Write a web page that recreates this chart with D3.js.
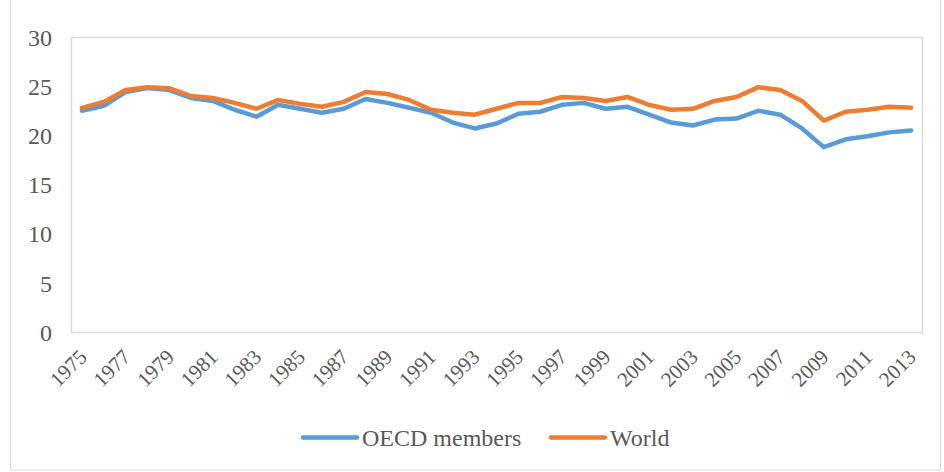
<!DOCTYPE html>
<html>
<head>
<meta charset="utf-8">
<script src="https://cdn.jsdelivr.net/npm/d3@7"></script>
<style>
  html, body { margin: 0; padding: 0; background: #fff; }
  svg { display: block; }
  text { font-family: "Liberation Serif", "Times New Roman", serif; fill: #595959; }
</style>
</head>
<body>
<svg id="chart" width="944" height="472"></svg>
<script>
// Years on the category axis
const years = d3.range(1975, 2014);

// Series values
const oecd = [22.5, 23.0, 24.4, 24.8, 24.6, 23.8, 23.5, 22.6, 21.9, 23.1,
              22.7, 22.3, 22.7, 23.7, 23.3, 22.8, 22.3, 21.3, 20.7, 21.2,
              22.2, 22.4, 23.1, 23.3, 22.7, 22.9, 22.1, 21.3, 21.0, 21.6,
              21.7, 22.5, 22.1, 20.7, 18.8, 19.6, 19.9, 20.3, 20.5];
const world = [22.8, 23.4, 24.6, 24.9, 24.8, 24.0, 23.8, 23.3, 22.7, 23.6,
               23.2, 22.9, 23.4, 24.4, 24.2, 23.6, 22.6, 22.3, 22.1, 22.7,
               23.3, 23.3, 23.9, 23.8, 23.5, 23.9, 23.1, 22.6, 22.7, 23.5,
               23.9, 24.9, 24.6, 23.5, 21.5, 22.4, 22.6, 22.9, 22.8];

// Axis ticks
const yTicks = [0, 5, 10, 15, 20, 25, 30];
const xTickYears = years.filter((y, i) => i % 2 === 0);

const series = [
  { name: "OECD members", values: oecd, color: "#5B9BD5" },
  { name: "World", values: world, color: "#ED7D31" }
];

const svg = d3.select("#chart");

// Outer chart frame
svg.append("rect")
  .attr("x", 10.5).attr("y", -2)
  .attr("width", 930).attr("height", 472)
  .attr("fill", "none").attr("stroke", "#d9d9d9").attr("stroke-width", 1);

const plot = { left: 71, right: 922, top: 37, bottom: 332 };

const x = d3.scaleBand()
  .domain(years)
  .range([plot.left, plot.right]);

const y = d3.scaleLinear()
  .domain([0, 30])
  .range([plot.bottom, plot.top]);

// Plot area border
svg.append("rect")
  .attr("x", plot.left + 0.5).attr("y", plot.top + 0.5)
  .attr("width", plot.right - plot.left).attr("height", plot.bottom - plot.top)
  .attr("fill", "none").attr("stroke", "#d9d9d9").attr("stroke-width", 1.5);

const serif = "Liberation Serif, Times New Roman, serif";

// Y axis labels
const yAxis = d3.axisLeft(y).tickValues(yTicks).tickSize(0).tickPadding(0);
svg.append("g")
  .attr("transform", `translate(52,0)`)
  .call(yAxis)
  .call(g => g.select(".domain").remove())
  .call(g => g.selectAll("text")
    .attr("font-size", 24)
    .attr("font-family", serif)
    .attr("fill", "#595959")
    .attr("dy", "0.34em"));

// X axis labels (every other year, rotated)
const xAxis = d3.axisBottom(x).tickValues(xTickYears).tickSize(0).tickPadding(0);
svg.append("g")
  .attr("transform", `translate(0,${plot.bottom})`)
  .call(xAxis)
  .call(g => g.select(".domain").remove())
  .call(g => g.selectAll("text")
    .attr("font-size", 21)
    .attr("font-family", serif)
    .attr("fill", "#595959")
    .attr("text-anchor", "end")
    .attr("dy", "0.35em")
    .attr("y", 0)
    .attr("transform", "translate(1,21) rotate(-45)"));

// Lines
const line = d3.line()
  .x((d, i) => x(years[i]) + x.bandwidth() / 2)
  .y(d => y(d));

series.forEach(s => {
  svg.append("path")
    .datum(s.values)
    .attr("d", line)
    .attr("fill", "none")
    .attr("stroke", s.color)
    .attr("stroke-width", 4.5)
    .attr("stroke-linejoin", "round")
    .attr("stroke-linecap", "round");
});

// Legend
const legendItems = [
  { s: series[0], x0: 303 },
  { s: series[1], x0: 551 }
];
legendItems.forEach(({ s, x0 }) => {
  const g = svg.append("g").attr("transform", `translate(${x0},437.5)`);
  g.append("line")
    .attr("x1", 0).attr("x2", 54)
    .attr("y1", 0).attr("y2", 0)
    .attr("stroke", s.color).attr("stroke-width", 4.5)
    .attr("stroke-linecap", "round");
  g.append("text")
    .attr("x", 59).attr("y", 0).attr("dy", "0.34em")
    .attr("font-size", 24)
    .text(s.name);
});
</script>
</body>
</html>
